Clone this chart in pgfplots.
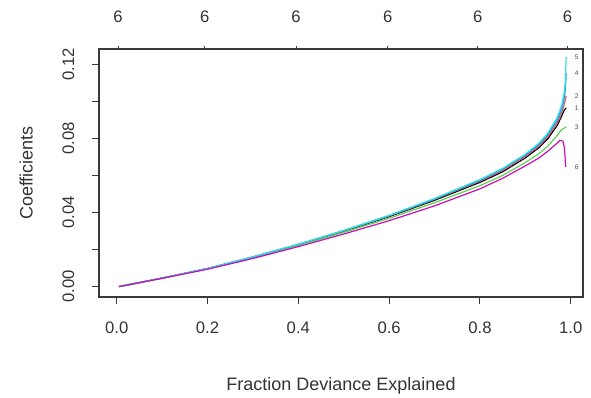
\documentclass[border=0pt]{standalone}
\usepackage{pgfplots}
\pgfplotsset{compat=1.18}
\usepackage{fontspec}
\setmainfont{Liberation Sans}
\definecolor{rblack}{HTML}{000000}
\definecolor{rred}{HTML}{DF536B}
\definecolor{rgreen}{HTML}{61D04F}
\definecolor{rblue}{HTML}{2297E6}
\definecolor{rcyan}{HTML}{28E2E5}
\definecolor{rmag}{HTML}{CD0BBC}
\definecolor{frame}{HTML}{3A3A3A}
\begin{document}
\begin{tikzpicture}
\pgfplotsset{
  common/.style={scale only axis, width=363pt, height=186pt,
    xmin=-0.039, xmax=1.027, ymin=-0.0056, ymax=0.1283,
    axis line style={frame, line width=0.8pt},
    tick style={frame, line width=0.8pt},
    /pgf/number format/assume math mode=true,
    tick label style={font=\fontsize{12.5}{14}\selectfont, text=black!80},
    scaled ticks=false},
}
\begin{axis}[common,
  tick align=outside, major tick length=5pt,
  xtick pos=lower, ytick pos=left,
  xtick={0,0.2,0.4,0.6,0.8,1.0},
  xticklabels={0.0,0.2,0.4,0.6,0.8,1.0},
  ytick={0,0.02,0.04,0.06,0.08,0.10,0.12},
  yticklabels={0.00,,0.04,,0.08,,0.12},
  xticklabel shift=10pt,
  yticklabel style={rotate=90, anchor=south},
  yticklabel shift=10pt,
  every axis plot/.append style={line width=0.9pt, no markers},
]
\addplot[rblack] coordinates {(0.005,0) (0.1,0.0046) (0.2,0.0097) (0.3,0.0159) (0.4,0.0226) (0.5,0.0299) (0.6,0.0378) (0.7,0.0466) (0.8,0.0563) (0.85,0.0620) (0.9,0.0695) (0.93,0.0750) (0.95,0.0800) (0.97,0.0870) (0.98,0.0920) (0.985,0.0950) (0.99,0.0965)};
\addplot[rred] coordinates {(0.005,0) (0.1,0.0046) (0.2,0.0098) (0.3,0.0160) (0.4,0.0228) (0.5,0.0302) (0.6,0.0381) (0.7,0.0471) (0.8,0.0570) (0.85,0.0628) (0.9,0.0703) (0.93,0.0760) (0.95,0.0812) (0.97,0.0885) (0.98,0.0940) (0.985,0.0980) (0.99,0.1030)};
\addplot[rgreen] coordinates {(0.005,0) (0.1,0.0046) (0.2,0.0096) (0.3,0.0156) (0.4,0.0222) (0.5,0.0293) (0.6,0.0369) (0.7,0.0453) (0.8,0.0545) (0.85,0.0600) (0.9,0.0670) (0.93,0.0718) (0.95,0.0760) (0.97,0.0815) (0.98,0.0848) (0.99,0.0862)};
\addplot[rblue] coordinates {(0.005,0) (0.1,0.0046) (0.2,0.0098) (0.3,0.0160) (0.4,0.0228) (0.5,0.0302) (0.6,0.0383) (0.7,0.0473) (0.8,0.0574) (0.85,0.0634) (0.9,0.0710) (0.93,0.0768) (0.95,0.0822) (0.97,0.0900) (0.98,0.0960) (0.985,0.1010) (0.988,0.1060) (0.99,0.1150)};
\addplot[rcyan] coordinates {(0.005,0) (0.1,0.0046) (0.2,0.0098) (0.3,0.0161) (0.4,0.0229) (0.5,0.0303) (0.6,0.0385) (0.7,0.0476) (0.8,0.0578) (0.85,0.0638) (0.9,0.0715) (0.93,0.0775) (0.95,0.0830) (0.97,0.0912) (0.98,0.0978) (0.985,0.1040) (0.988,0.1100) (0.99,0.1240)};
\addplot[rmag] coordinates {(0.005,0) (0.1,0.0045) (0.2,0.0094) (0.3,0.0152) (0.4,0.0216) (0.5,0.0284) (0.6,0.0356) (0.7,0.0436) (0.8,0.0528) (0.85,0.0585) (0.9,0.0652) (0.93,0.0695) (0.95,0.0732) (0.97,0.0775) (0.976,0.0790) (0.983,0.0785) (0.986,0.0750) (0.989,0.0646)};
\begin{scope}[every node/.style={font=\fontsize{5}{6}\selectfont, text=black!70, inner sep=0pt}]
\node at (axis cs:1.013,0.1240) {5};
\node at (axis cs:1.013,0.1150) {4};
\node at (axis cs:1.013,0.1030) {2};
\node at (axis cs:1.013,0.0965) {1};
\node at (axis cs:1.013,0.0862) {3};
\node at (axis cs:1.013,0.0646) {6};
\end{scope}
\end{axis}
\begin{axis}[common,
  axis x line*=top, axis y line=none,
  tick align=outside, major tick length=2pt,
  xtick={0.003,0.194,0.395,0.597,0.795,0.993},
  xticklabels={6,6,6,6,6,6},
  xticklabel shift=14pt,
]
\end{axis}
\node[rotate=90, anchor=south, inner sep=0pt, font=\fontsize{13.5}{16}\selectfont, text=black!80] at ([xshift=-49.5pt]current axis.west) {Coefficients};
\node[anchor=north, inner sep=0pt, font=\fontsize{13.5}{16}\selectfont, text=black!80] at ([yshift=-60pt]current axis.south) {Fraction Deviance Explained};
\path ([xshift=-74.25pt,yshift=-75.75pt]current axis.south west) rectangle ([xshift=6pt,yshift=36.75pt]current axis.north east);
\end{tikzpicture}
\end{document}
